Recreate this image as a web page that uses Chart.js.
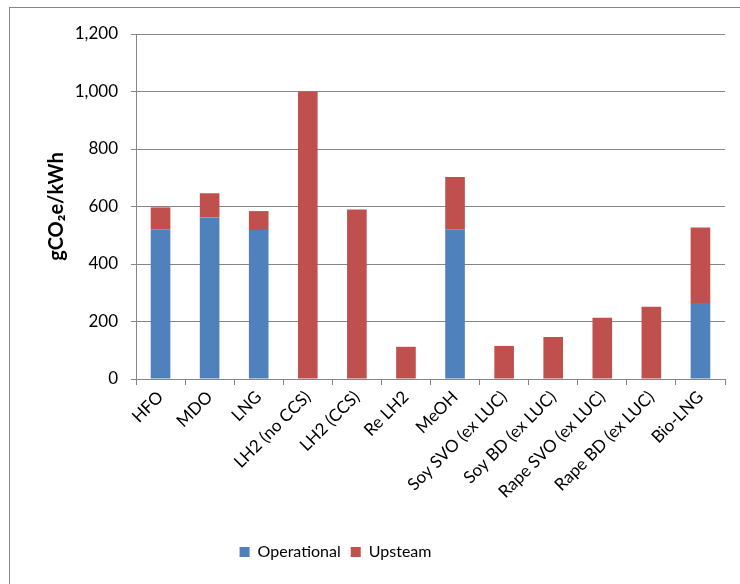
<!DOCTYPE html>
<html>
<head>
<meta charset="utf-8">
<script src="https://cdn.jsdelivr.net/npm/chart.js@4/dist/chart.umd.min.js"></script>
<style>
    html, body { margin: 0; padding: 0; background: #fff; }
    #wrap { position: relative; width: 740px; height: 584px; overflow: hidden; }
    #frame {
        position: absolute; left: 9px; top: 7px; width: 800px; height: 700px;
        border-left: 1px solid #868686; border-top: 1px solid #868686;
    }
    #chart { position: absolute; left: 0; top: 0; }
</style>
</head>
<body>
<div id="wrap">
    <div id="frame"></div>
    <canvas id="chart" width="740" height="584"></canvas>
</div>
<script>
// fuel types on the x axis
const categories = [
    "HFO", "MDO", "LNG", "LH2 (no CCS)", "LH2 (CCS)", "Re LH2", "MeOH",
    "Soy SVO (ex LUC)", "Soy BD (ex LUC)", "Rape SVO (ex LUC)", "Rape BD (ex LUC)", "Bio-LNG"
];

// gCO2e/kWh
const operational = [521, 562, 518, 0, 0, 0, 521, 0, 0, 0, 0, 264];
const upstream = [76, 84, 66, 1000, 590, 112, 182, 115, 146, 213, 251, 263];

const yTicks = [0, 200, 400, 600, 800, 1000, 1200];

const gridGray = "#868686";

Chart.defaults.font.family = "Lato, 'Open Sans', sans-serif";
Chart.defaults.color = "#000";

// nudge the legend a bit left, like in the original
const legendShift = {
    id: "legendShift",
    afterLayout(chart) {
        if (!chart.legend) return;
        chart.legend.left -= 27;
        chart.legend.right -= 27;
    }
};

new Chart(document.getElementById("chart"), {
    type: "bar",
    data: {
        labels: categories,
        datasets: [
            {
                label: "Operational",
                data: operational,
                backgroundColor: "#4F81BD",
                categoryPercentage: 1,
                barPercentage: 0.4,
            },
            {
                label: "Upsteam",
                data: upstream,
                backgroundColor: "#C0504D",
                categoryPercentage: 1,
                barPercentage: 0.4,
            },
        ],
    },
    options: {
        responsive: false,
        animation: false,
        layout: { padding: { top: 34, right: 15, bottom: 14, left: 0 } },
        plugins: {
            legend: {
                position: "bottom",
                labels: {
                    boxWidth: 10,
                    boxHeight: 10,
                    padding: 10,
                    font: { size: 16 },
                },
            },
            tooltip: { enabled: false },
        },
        scales: {
            x: {
                stacked: true,
                afterFit: (scale) => { scale.height = 155; },
                grid: {
                    display: true,
                    drawOnChartArea: false,
                    drawTicks: true,
                    tickLength: 6,
                    color: gridGray,
                },
                border: { display: true, color: gridGray, width: 1 },
                ticks: {
                    autoSkip: false,
                    minRotation: 45,
                    maxRotation: 45,
                    padding: 2,
                    font: { size: 17 },
                },
            },
            y: {
                stacked: true,
                min: 0,
                max: 1200,
                afterFit: (scale) => { scale.width = 136; },
                afterBuildTicks: (scale) => {
                    scale.ticks = yTicks.map((v) => ({ value: v }));
                },
                grid: {
                    color: gridGray,
                    tickLength: 5,
                },
                border: { display: true, color: gridGray, width: 1 },
                ticks: {
                    padding: 13,
                    font: { size: 17 },
                },
                title: {
                    display: true,
                    text: "gCO\u2082e/kWh",
                    font: { size: 20, weight: "bold" },
                    padding: { top: 45, bottom: 0 },
                },
            },
        },
    },
    plugins: [legendShift],
});
</script>
</body>
</html>
